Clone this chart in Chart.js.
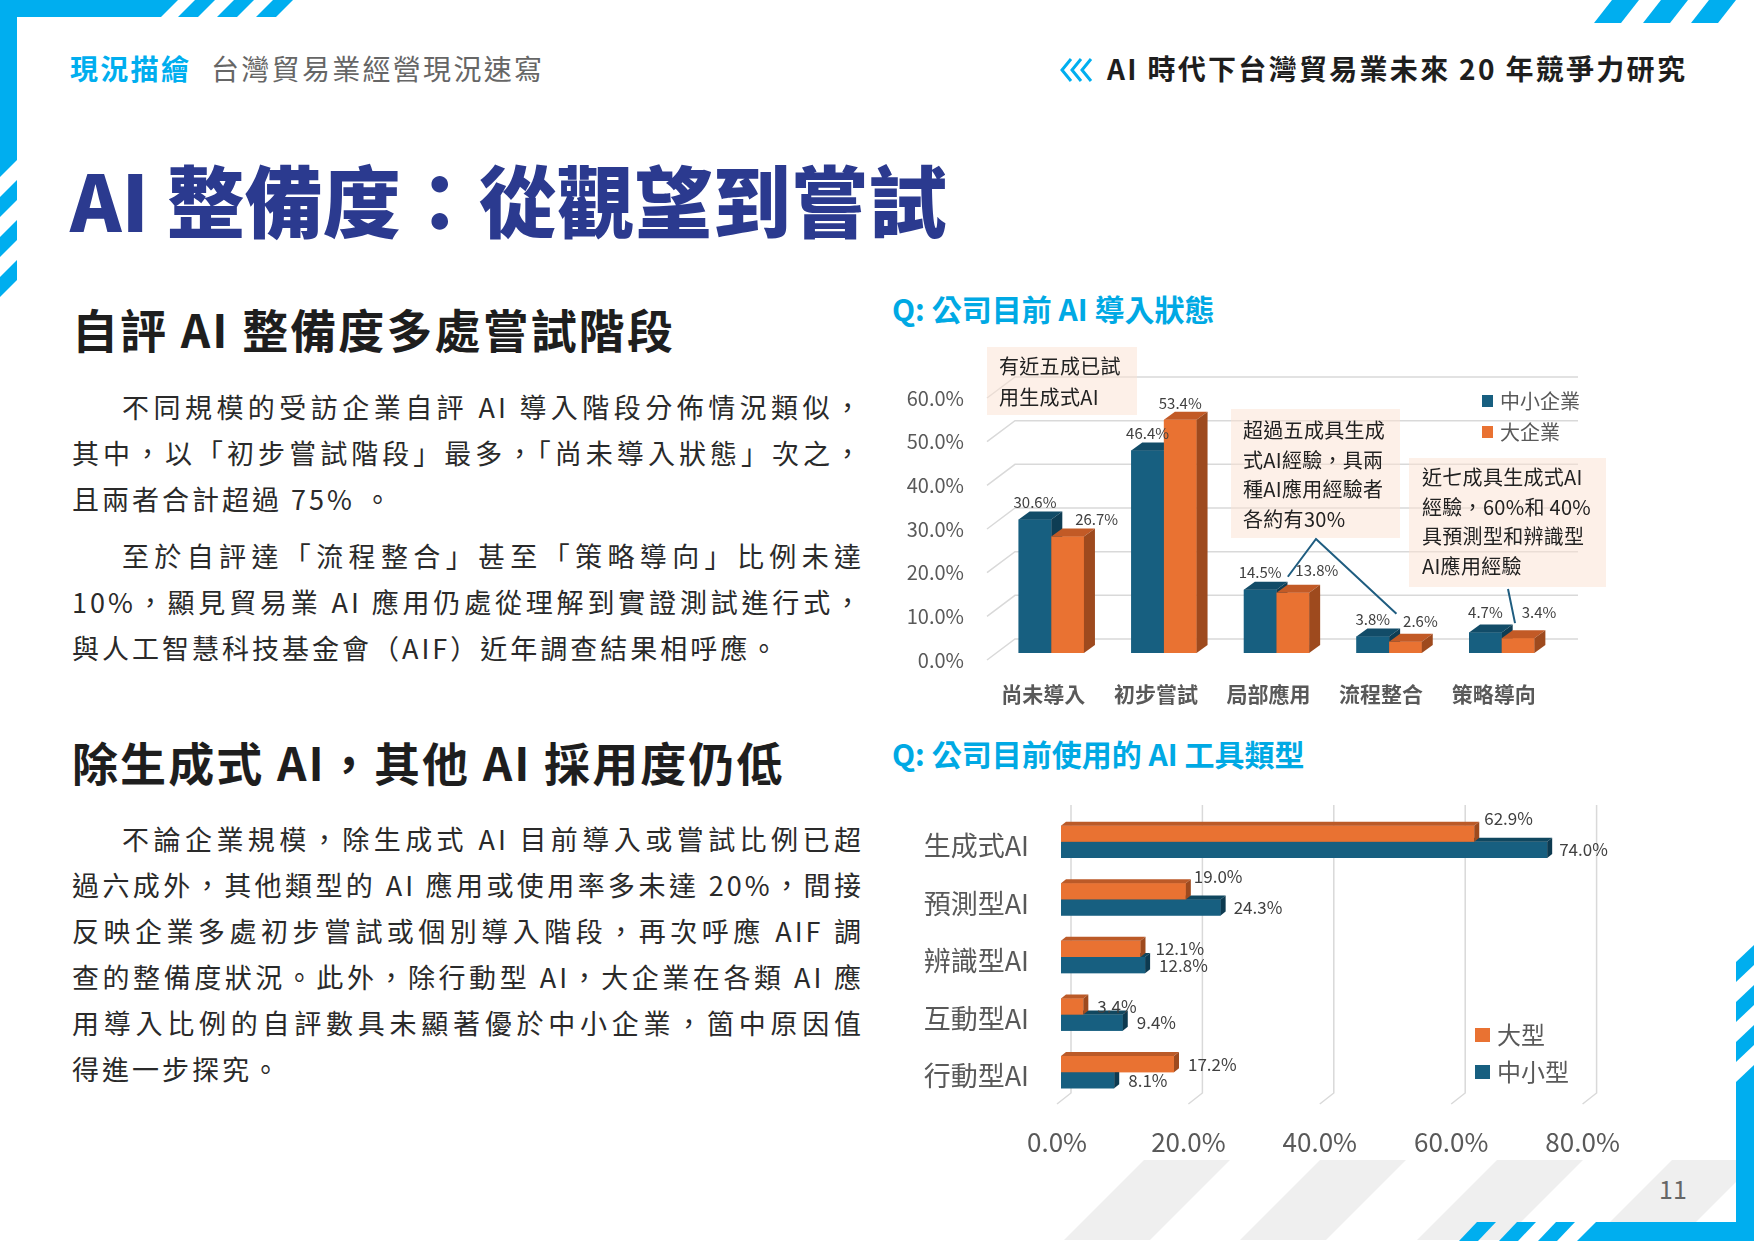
<!DOCTYPE html>
<html>
<head>
<meta charset="utf-8">
<script src="https://cdn.jsdelivr.net/npm/chart.js"></script>
<style>
  body { margin: 0; background: #fff; }
  #page { position: relative; width: 1754px; height: 1241px; overflow: hidden; background: #fff;
          font-family: 'Noto Sans CJK TC', 'Noto Sans', sans-serif; }
  .abs { position: absolute; white-space: nowrap; line-height: 1; }
  .hdr { font-size: 28px; letter-spacing: 2.3px; }
  .para { position: absolute; left: 72px; width: 792px; font-size: 27px; line-height: 46px;
          color: #2a2a2a; letter-spacing: 3px; }
  .para div { text-align: justify; text-align-last: justify; }
  .para div.end { text-align-last: left; }
  .para div.ind { padding-left: 50px; }
  .sec { font-size: 46px; font-weight: 700; color: #1e1e1e; letter-spacing: 2.1px; }
  .qt { font-size: 30px; font-weight: 700; color: #00a9e4; }
  .note { position: absolute; background: rgba(251, 226, 210, 0.5); font-size: 20px; color: #222;
          box-sizing: border-box; white-space: nowrap; letter-spacing: 0.3px; }
  .wrap { position: absolute; }
</style>
</head>
<body>
<div id="page">
  <svg width="1754" height="1241" style="position:absolute;left:0;top:0">
    <g fill="#efefef">
      <polygon points="1144,1160 1230,1160 1150,1240 1064,1240"/>
      <polygon points="1320,1160 1406,1160 1326,1240 1240,1240"/>
      <polygon points="1497,1160 1583,1160 1503,1240 1417,1240"/>
      <polygon points="1672,1160 1758,1160 1678,1240 1592,1240"/>
    </g>
    <g fill="#00aeef">
      <polygon points="0,0 178,0 161,17 0,17"/>
      <polygon points="178,17 198,17 215,0 195,0"/>
      <polygon points="217,17 237,17 254,0 234,0"/>
      <polygon points="256,17 276,17 293,0 273,0"/>
      <polygon points="0,0 17,0 17,160 0,177"/>
      <polygon points="17,180 17,200 0,217 0,197"/>
      <polygon points="17,220 17,240 0,257 0,237"/>
      <polygon points="17,260 17,280 0,297 0,277"/>
      <polygon points="1594,23 1621,23 1639,0 1612,0"/>
      <polygon points="1643,23 1670,23 1688,0 1661,0"/>
      <polygon points="1691,23 1718,23 1736,0 1709,0"/>
      <polygon points="1736,1082 1754,1065 1754,1241 1736,1241"/>
      <polygon points="1736,962 1754,945 1754,965 1736,982"/>
      <polygon points="1736,1002 1754,985 1754,1005 1736,1022"/>
      <polygon points="1736,1042 1754,1025 1754,1045 1736,1062"/>
      <polygon points="1596,1222 1754,1222 1754,1241 1577,1241"/>
      <polygon points="1459,1241 1478,1241 1496,1222 1477,1222"/>
      <polygon points="1499,1241 1518,1241 1536,1222 1517,1222"/>
      <polygon points="1538,1241 1557,1241 1575,1222 1556,1222"/>
    </g>
    <g fill="none" stroke="#00aeef" stroke-width="3">
      <polyline points="1071,59 1062,70 1071,81"/>
      <polyline points="1081,59 1072,70 1081,81"/>
      <polyline points="1091,59 1082,70 1091,81"/>
    </g>
  </svg>

  <div class="abs hdr" style="left:70px;top:54px;color:#00aeef;font-weight:700;">現況描繪</div>
  <div class="abs hdr" style="left:211px;top:54px;color:#666;font-weight:400;">台灣貿易業經營現況速寫</div>
  <div class="abs hdr" style="left:1107px;top:54px;color:#1e1e1e;font-weight:700;">AI 時代下台灣貿易業未來 20 年競爭力研究</div>

  <div class="abs" style="left:70px;top:159px;font-size:78px;font-weight:900;color:#2b3a8f;">AI 整備度：從觀望到嘗試</div>

  <div class="abs sec" style="left:72px;top:305px;">自評 AI 整備度多處嘗試階段</div>
  <div class="para" style="top:384px;">
    <div class="ind">不同規模的受訪企業自評 AI 導入階段分佈情況類似，</div>
    <div>其中，以「初步嘗試階段」最多，「尚未導入狀態」次之，</div>
    <div class="end">且兩者合計超過 75% 。</div>
  </div>
  <div class="para" style="top:533px;">
    <div class="ind">至於自評達「流程整合」甚至「策略導向」比例未達</div>
    <div>10%，顯見貿易業 AI 應用仍處從理解到實證測試進行式，</div>
    <div class="end">與人工智慧科技基金會（AIF）近年調查結果相呼應。</div>
  </div>

  <div class="abs sec" style="left:72px;top:738px;">除生成式 AI，其他 AI 採用度仍低</div>
  <div class="para" style="top:816px;">
    <div class="ind">不論企業規模，除生成式 AI 目前導入或嘗試比例已超</div>
    <div>過六成外，其他類型的 AI 應用或使用率多未達 20%，間接</div>
    <div>反映企業多處初步嘗試或個別導入階段，再次呼應 AIF 調</div>
    <div>查的整備度狀況。此外，除行動型 AI，大企業在各類 AI 應</div>
    <div>用導入比例的自評數具未顯著優於中小企業，箇中原因值</div>
    <div class="end">得進一步探究。</div>
  </div>

  <div class="abs qt" style="left:892px;top:293px;">Q: 公司目前 AI 導入狀態</div>
  <div class="wrap" style="left:880px;top:330px;width:760px;height:390px;"><canvas id="c1"></canvas></div>
  <div class="note" style="left:987px;top:347px;width:150px;height:68px;padding:3px 0 0 12px;line-height:31px;">有近五成已試<br>用生成式AI</div>
  <div class="note" style="left:1231px;top:409px;width:169px;height:129px;padding:6px 0 0 12px;line-height:29.5px;">超過五成具生成<br>式AI經驗，具兩<br>種AI應用經驗者<br>各約有30%</div>
  <div class="note" style="left:1409px;top:458px;width:197px;height:129px;padding:4px 0 0 13px;line-height:29.7px;">近七成具生成式AI<br>經驗，60%和 40%<br>具預測型和辨識型<br>AI應用經驗</div>

  <div class="abs qt" style="left:892px;top:738px;">Q: 公司目前使用的 AI 工具類型</div>
  <div class="wrap" style="left:880px;top:790px;width:760px;height:380px;"><canvas id="c2"></canvas></div>

  <div class="abs" style="left:1659px;top:1176px;font-size:25px;color:#666;">11</div>
</div>

<script>
  // Q: 公司目前 AI 導入狀態
  const stageLabels = ['尚未導入', '初步嘗試', '局部應用', '流程整合', '策略導向'];
  const smeStage = [30.6, 46.4, 14.5, 3.8, 4.7];     // 中小企業
  const largeStage = [26.7, 53.4, 13.8, 2.6, 3.4];   // 大企業
  const stageTicks = [0, 10, 20, 30, 40, 50, 60];

  // Q: 公司目前使用的 AI 工具類型
  const toolLabels = ['生成式AI', '預測型AI', '辨識型AI', '互動型AI', '行動型AI'];
  const largeTool = [62.9, 19.0, 12.1, 3.4, 17.2];   // 大型
  const smeTool = [74.0, 24.3, 12.8, 9.4, 8.1];      // 中小型
  const toolTicks = [0, 20, 40, 60, 80];

  const BLUE = '#175f80';
  const ORANGE = '#e97232';
  const FONT = "'Noto Sans CJK TC', 'Noto Sans', sans-serif";
  Chart.defaults.font.family = FONT;

  const pct = v => Number(v).toFixed(1) + '%';

  // fixed axis size, and no extra label padding pushing the plot area around
  const fitAxis = (w, h) => s => {
    if (w != null) s.width = w;
    if (h != null) s.height = h;
    s.paddingTop = 0; s.paddingBottom = 0; s.paddingLeft = 0; s.paddingRight = 0;
  };

  // fake 3D: redraw bars with a top face and a right side face
  function make3d(cfg) {
    return {
      id: 'bar3d',
      afterDatasetsDraw(chart) {
        const ctx = chart.ctx;
        const horiz = chart.options.indexAxis === 'y';
        ctx.save();
        cfg.order.forEach(di => {
          const f = cfg.faces[di];
          chart.getDatasetMeta(di).data.forEach(el => {
            const p = el.getProps(['x', 'y', 'base', 'width', 'height'], true);
            let l, r, t, b;
            if (horiz) {
              l = Math.min(p.base, p.x); r = Math.max(p.base, p.x);
              t = p.y - p.height / 2; b = p.y + p.height / 2;
            } else {
              l = p.x - p.width / 2; r = p.x + p.width / 2;
              t = Math.min(p.y, p.base); b = Math.max(p.y, p.base);
            }
            const dx = cfg.dx, dy = cfg.dy;
            ctx.fillStyle = f.front;
            ctx.fillRect(l, t, r - l, b - t);
            ctx.fillStyle = f.top;
            ctx.beginPath();
            ctx.moveTo(l, t); ctx.lineTo(l + dx, t - dy); ctx.lineTo(r + dx, t - dy); ctx.lineTo(r, t);
            ctx.closePath(); ctx.fill();
            ctx.fillStyle = f.side;
            ctx.beginPath();
            ctx.moveTo(r, t); ctx.lineTo(r + dx, t - dy); ctx.lineTo(r + dx, b - dy); ctx.lineTo(r, b);
            ctx.closePath(); ctx.fill();
          });
        });
        ctx.restore();
      }
    };
  }

  function makeLabels(cfg) {
    return {
      id: 'vlabels',
      afterDatasetsDraw(chart) {
        const ctx = chart.ctx;
        ctx.save();
        ctx.font = cfg.font;
        ctx.fillStyle = cfg.color;
        ctx.textBaseline = 'middle';
        chart.data.datasets.forEach((ds, di) => {
          chart.getDatasetMeta(di).data.forEach((el, i) => {
            const pos = cfg.place(el, di, i);
            ctx.textAlign = pos.align;
            ctx.fillText(pct(ds.data[i]), pos.x, pos.y);
          });
        });
        ctx.restore();
      }
    };
  }

  function makeLegend(cfg) {
    return {
      id: 'legend3d',
      afterDraw(chart) {
        const ctx = chart.ctx;
        ctx.save();
        ctx.font = cfg.font;
        ctx.textBaseline = 'middle';
        ctx.textAlign = 'left';
        cfg.items.forEach(it => {
          const ds = chart.data.datasets[it.di];
          ctx.fillStyle = ds.backgroundColor;
          ctx.fillRect(it.x, it.y - cfg.bh / 2, cfg.bw, cfg.bh);
          ctx.fillStyle = cfg.color;
          ctx.fillText(ds.label, it.x + cfg.gap, it.y);
        });
        ctx.restore();
      }
    };
  }

  const grid1 = {
    id: 'grid1',
    beforeDatasetsDraw(chart) {
      const { ctx, chartArea: a, scales: { y } } = chart;
      ctx.save();
      ctx.strokeStyle = '#d9d9d9';
      ctx.lineWidth = 1.5;
      y.ticks.forEach(t => {
        const py = y.getPixelForValue(t.value);
        ctx.beginPath();
        ctx.moveTo(a.left - 8, py + 7);
        ctx.lineTo(a.left + 20, py - 14);
        ctx.lineTo(a.right + 20, py - 14);
        ctx.stroke();
      });
      ctx.restore();
    }
  };

  const callouts = {
    id: 'callouts',
    afterDraw(chart) {
      const ctx = chart.ctx;
      const lg = chart.getDatasetMeta(1).data;
      ctx.save();
      ctx.strokeStyle = '#1f5d80';
      ctx.lineWidth = 2;
      ctx.beginPath();
      ctx.moveTo(lg[2].x - 5, lg[2].y - 16);
      ctx.lineTo(436, 209);
      ctx.lineTo(lg[3].x - 9, lg[3].y - 28);
      ctx.moveTo(628, 259);
      ctx.lineTo(lg[4].x - 3, lg[4].y - 15);
      ctx.stroke();
      ctx.restore();
    }
  };

  const lgShift1 = [[0, 0, 0, 0, 0], [29, 0, 24, 15, 21]];
  const lgLift1 = [[0, 0, 0, 0, -3], [0, 0, -5, -3, -9]];

  new Chart(document.getElementById('c1'), {
    type: 'bar',
    data: {
      labels: stageLabels,
      datasets: [
        { label: '中小企業', data: smeStage, backgroundColor: BLUE },
        { label: '大企業', data: largeStage, backgroundColor: ORANGE }
      ]
    },
    options: {
      responsive: true,
      maintainAspectRatio: false,
      animation: false,
      layout: { padding: { left: 0, right: 82, top: 61, bottom: 0 } },
      datasets: { bar: { barPercentage: 1, categoryPercentage: 0.58, borderWidth: 0 } },
      plugins: { legend: { display: false }, tooltip: { enabled: false } },
      scales: {
        x: {
          grid: { display: false, drawTicks: false },
          border: { display: false },
          ticks: { color: '#595959', font: { size: 21, weight: 'bold' }, padding: 28, labelOffset: -8 },
          afterFit: fitAxis(null, 67)
        },
        y: {
          min: 0, max: 60,
          grid: { display: false, drawTicks: false },
          border: { display: false },
          ticks: { color: '#595959', font: { size: 20 }, padding: 31, labelOffset: 7, callback: v => pct(v) },
          afterBuildTicks: s => { s.ticks = stageTicks.map(v => ({ value: v })); },
          afterFit: fitAxis(115, null)
        }
      }
    },
    plugins: [
      grid1,
      make3d({ dx: 11, dy: 8, order: [0, 1], faces: [
        { front: BLUE, top: '#124c68', side: '#0e3d54' },
        { front: ORANGE, top: '#c25a26', side: '#9e4a1e' }
      ] }),
      makeLabels({
        font: "15px " + FONT, color: '#404040',
        place: (el, di, i) => ({ x: el.x + lgShift1[di][i], y: el.y - 17 + lgLift1[di][i], align: 'center' })
      }),
      makeLegend({ font: "20px " + FONT, color: '#595959', bw: 11, bh: 12, gap: 18,
        items: [{ di: 0, x: 602, y: 71 }, { di: 1, x: 602, y: 102 }] }),
      callouts
    ]
  });

  const grid2 = {
    id: 'grid2',
    beforeDatasetsDraw(chart) {
      const { ctx, chartArea: a, scales: { x } } = chart;
      ctx.save();
      ctx.strokeStyle = '#d9d9d9';
      ctx.lineWidth = 1.5;
      x.ticks.forEach(t => {
        const px = x.getPixelForValue(t.value);
        ctx.beginPath();
        ctx.moveTo(px + 10, a.top - 8);
        ctx.lineTo(px + 10, a.bottom - 8);
        ctx.lineTo(px - 4, a.bottom + 3);
        ctx.stroke();
      });
      ctx.restore();
    }
  };

  const lgShift2 = [[10, 8, 15, 14, 14], [12, 13, 14, 14, 14]];
  const lgLift2 = [[-15, -15, 0, 0, 0], [0, 0, 0, 0, 0]];

  new Chart(document.getElementById('c2'), {
    type: 'bar',
    data: {
      labels: toolLabels,
      datasets: [
        { label: '大型', data: largeTool, backgroundColor: ORANGE },
        { label: '中小型', data: smeTool, backgroundColor: BLUE }
      ]
    },
    options: {
      indexAxis: 'y',
      responsive: true,
      maintainAspectRatio: false,
      animation: false,
      layout: { padding: { left: 0, right: 53.4, top: 23, bottom: 0 } },
      datasets: { bar: { barPercentage: 1, categoryPercentage: 0.56, borderWidth: 0 } },
      plugins: { legend: { display: false }, tooltip: { enabled: false } },
      scales: {
        x: {
          min: 0, max: 80,
          grid: { display: false, drawTicks: false },
          border: { display: false },
          ticks: { color: '#595959', font: { size: 26 }, padding: 26, labelOffset: -4, callback: v => pct(v) },
          afterBuildTicks: s => { s.ticks = toolTicks.map(v => ({ value: v })); },
          afterFit: fitAxis(null, 69)
        },
        y: {
          grid: { display: false, drawTicks: false },
          border: { display: false },
          ticks: { color: '#595959', font: { size: 27 }, padding: 32, labelOffset: 4 },
          afterFit: fitAxis(181, null)
        }
      }
    },
    plugins: [
      grid2,
      make3d({ dx: 5, dy: 4, order: [1, 0], faces: [
        { front: ORANGE, top: '#bb5a28', side: '#9e4a1e' },
        { front: BLUE, top: '#10475f', side: '#0d3a50' }
      ] }),
      makeLabels({
        font: "17px " + FONT, color: '#404040',
        place: (el, di, i) => ({ x: el.x + lgShift2[di][i], y: el.y + lgLift2[di][i], align: 'left' })
      }),
      makeLegend({ font: "24px " + FONT, color: '#595959', bw: 15, bh: 14, gap: 22,
        items: [{ di: 0, x: 595, y: 245 }, { di: 1, x: 595, y: 282 }] })
    ]
  });
</script>
</body>
</html>
